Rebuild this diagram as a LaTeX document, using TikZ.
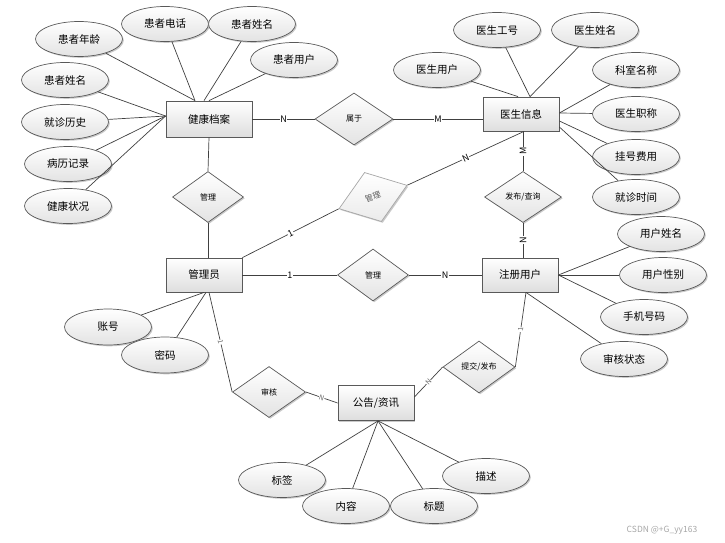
\documentclass[tikz,border=0pt]{standalone}
\usepackage{fontspec}
\newfontfamily\cjk{Noto Sans CJK SC}
\usetikzlibrary{shapes.geometric,shadows,calc}
\begin{document}
\begin{tikzpicture}[x=1pt,y=-1pt,
  myshadow/.style={drop shadow={shadow xshift=1.3pt,shadow yshift=-1.3pt,opacity=0.3,fill=black!70}},
  ent/.style={draw=black!65, line width=0.8pt, rectangle, minimum width=76pt, minimum height=34pt, inner sep=0pt,
    top color=white, bottom color=black!13, myshadow, font=\cjk\fontsize{10.5}{12}\selectfont},
  attr/.style={draw=black!65, line width=0.7pt, ellipse, minimum width=87pt, minimum height=35pt, inner sep=0pt,
    top color=white, bottom color=black!11, myshadow, font=\cjk\fontsize{10.5}{12}\selectfont},
  rel/.style={draw=black!65, line width=0.7pt, diamond, minimum width=72pt, minimum height=52pt, inner sep=0pt,
    top color=white, bottom color=black!11, myshadow, font=\cjk\fontsize{8}{9}\selectfont},
  conn/.style={draw=black!75, line width=0.7pt},
  card/.style={midway, fill=white, inner sep=0.6pt, font=\cjk\fontsize{9}{10}\selectfont},
  cardb/.style={midway, fill=white, inner sep=0.4pt, text=black!60, font=\cjk\fontsize{7}{8}\selectfont},
]
\useasboundingbox (0,0) rectangle (725,542);

% entities
\node[ent, minimum width=86pt, minimum height=36pt] (jk) at (209,119) {健康档案};
\node[ent] (ys) at (521,114) {医生信息};
\node[ent] (gly) at (204,275) {管理员};
\node[ent] (zc) at (520,275) {注册用户};
\node[ent, minimum height=35pt] (gg) at (376,403) {公告/资讯};

% relations
\node[rel, minimum width=78pt] (sy) at (354,119) {属于};
\node[rel, minimum width=71pt, minimum height=51pt] (gl1) at (208,197) {管理};
\node[rel, rotate=19, draw=black!35, text=black!65, bottom color=black!8] (gl2) at (373,197) {管理};
\node[rel, minimum width=77pt, minimum height=51pt] (fb) at (523,197) {发布/查询};
\node[rel, minimum width=71pt] (gl3) at (373,275) {管理};
\node[rel, minimum width=73pt, minimum height=51pt] (sh) at (269,392) {审核};
\node[rel] (tj) at (479,367) {提交/发布};

% attributes of 健康档案
\node[attr] (p1) at (79,39) {患者年龄};
\node[attr] (p2) at (165,24) {患者电话};
\node[attr] (p3) at (252,24) {患者姓名};
\node[attr] (p4) at (294,60) {患者用户};
\node[attr] (p5) at (65,80) {患者姓名};
\node[attr] (p6) at (65,122) {就诊历史};
\node[attr] (p7) at (68,164) {病历记录};
\node[attr] (p8) at (68,206) {健康状况};

% attributes of 医生信息
\node[attr] (d1) at (497,30) {医生工号};
\node[attr] (d2) at (595,30) {医生姓名};
\node[attr] (d3) at (437,70) {医生用户};
\node[attr] (d4) at (636,70) {科室名称};
\node[attr] (d5) at (636,114) {医生职称};
\node[attr] (d6) at (636,157) {挂号费用};
\node[attr] (d7) at (636,197) {就诊时间};

% attributes of 注册用户
\node[attr] (u1) at (661,234) {用户姓名};
\node[attr] (u2) at (663,275) {用户性别};
\node[attr] (u3) at (644,317) {手机号码};
\node[attr] (u4) at (624,359) {审核状态};

% attributes of 管理员
\node[attr, minimum height=36pt] (a1) at (108,327) {账号};
\node[attr, minimum height=36pt] (a2) at (165,355) {密码};

% attributes of 公告/资讯
\node[attr] (n1) at (282,480) {标签};
\node[attr] (n2) at (346,506) {内容};
\node[attr] (n3) at (434,506) {标题};
\node[attr] (n4) at (486,476) {描述};

% watermark
\node[font=\cjk\fontsize{8.5}{10}\selectfont, text=black!35] (wm) at (662,530) {CSDN @+G\_yy163};

% attribute connectors
\draw[conn] (p1) -- ($(jk.north)+(-14,0)$);
\draw[conn] (p2) -- ($(jk.north)+(-14,0)$);
\draw[conn] (p3) -- ($(jk.north)+(-5,0)$);
\draw[conn] (p4) -- (jk.north);
\draw[conn] (p5) -- ($(jk.west)+(0,-3)$);
\draw[conn] (p6) -- ($(jk.west)+(0,-3)$);
\draw[conn] (p7) -- ($(jk.west)+(0,-3)$);
\draw[conn] (p8) -- ($(jk.west)+(0,-3)$);

\draw[conn] (d1) -- ($(ys.north)+(9,0)$);
\draw[conn] (d2) -- ($(ys.north)+(9,0)$);
\draw[conn] (d3) -- ($(ys.north)+(-3,0)$);
\draw[conn] (d4) -- ($(ys.east)+(0,-1)$);
\draw[conn] (d5) -- ($(ys.east)+(0,-1)$);
\draw[conn] (d6) -- ($(ys.east)+(0,7)$);
\draw[conn] (d7) -- ($(ys.east)+(0,13)$);

\draw[conn] (u1) -- (zc.east);
\draw[conn] (u2) -- (zc.east);
\draw[conn] (u3) -- (zc.east);
\draw[conn] (u4) -- ($(zc.south)+(6,0)$);

\draw[conn] (a1) -- (gly.south);
\draw[conn] (a2) -- ($(gly.south)+(2,0)$);

\draw[conn] (n1) -- ($(gg.south)+(2,0)$);
\draw[conn] (n2) -- ($(gg.south)+(2,0)$);
\draw[conn] (n3) -- ($(gg.south)+(2,0)$);
\draw[conn] (n4) -- ($(gg.south)+(2,0)$);

% relationship connectors
\draw[conn] (jk.east) -- node[card]{N} (sy.west);
\draw[conn] (sy.east) -- node[card]{M} (sy.east -| ys.west);
\draw[conn] (jk.south) -- (gl1.north);
\draw[conn] (gl1.south) -- (gl1.south |- gly.north);
\draw[conn] (gly.north east) -- node[card, sloped]{1} (gl2.west);
\draw[conn] (gl2.east) -- node[card, sloped]{N} ($(ys.south)+(3,0)$);
\draw[conn] (fb.north) -- node[card, rotate=90]{M} (fb.north |- ys.south);
\draw[conn] (fb.south) -- node[card, rotate=90]{N} (fb.south |- zc.north);
\draw[conn] (gly.east) -- node[card]{1} (gl3.west);
\draw[conn] (gl3.east) -- node[card]{N} (zc.west);
\draw[conn] ($(gly.south)+(5,0)$) -- node[cardb, sloped]{1} (sh.west);
\draw[conn] (sh.east) -- node[cardb, sloped]{N} (gg.west);
\draw[conn] ($(zc.south)+(6,0)$) -- node[cardb, sloped]{1} (tj.east);
\draw[conn] (tj.west) -- node[cardb, sloped]{N} ($(gg.east)+(0,-6)$);
\end{tikzpicture}
\end{document}
